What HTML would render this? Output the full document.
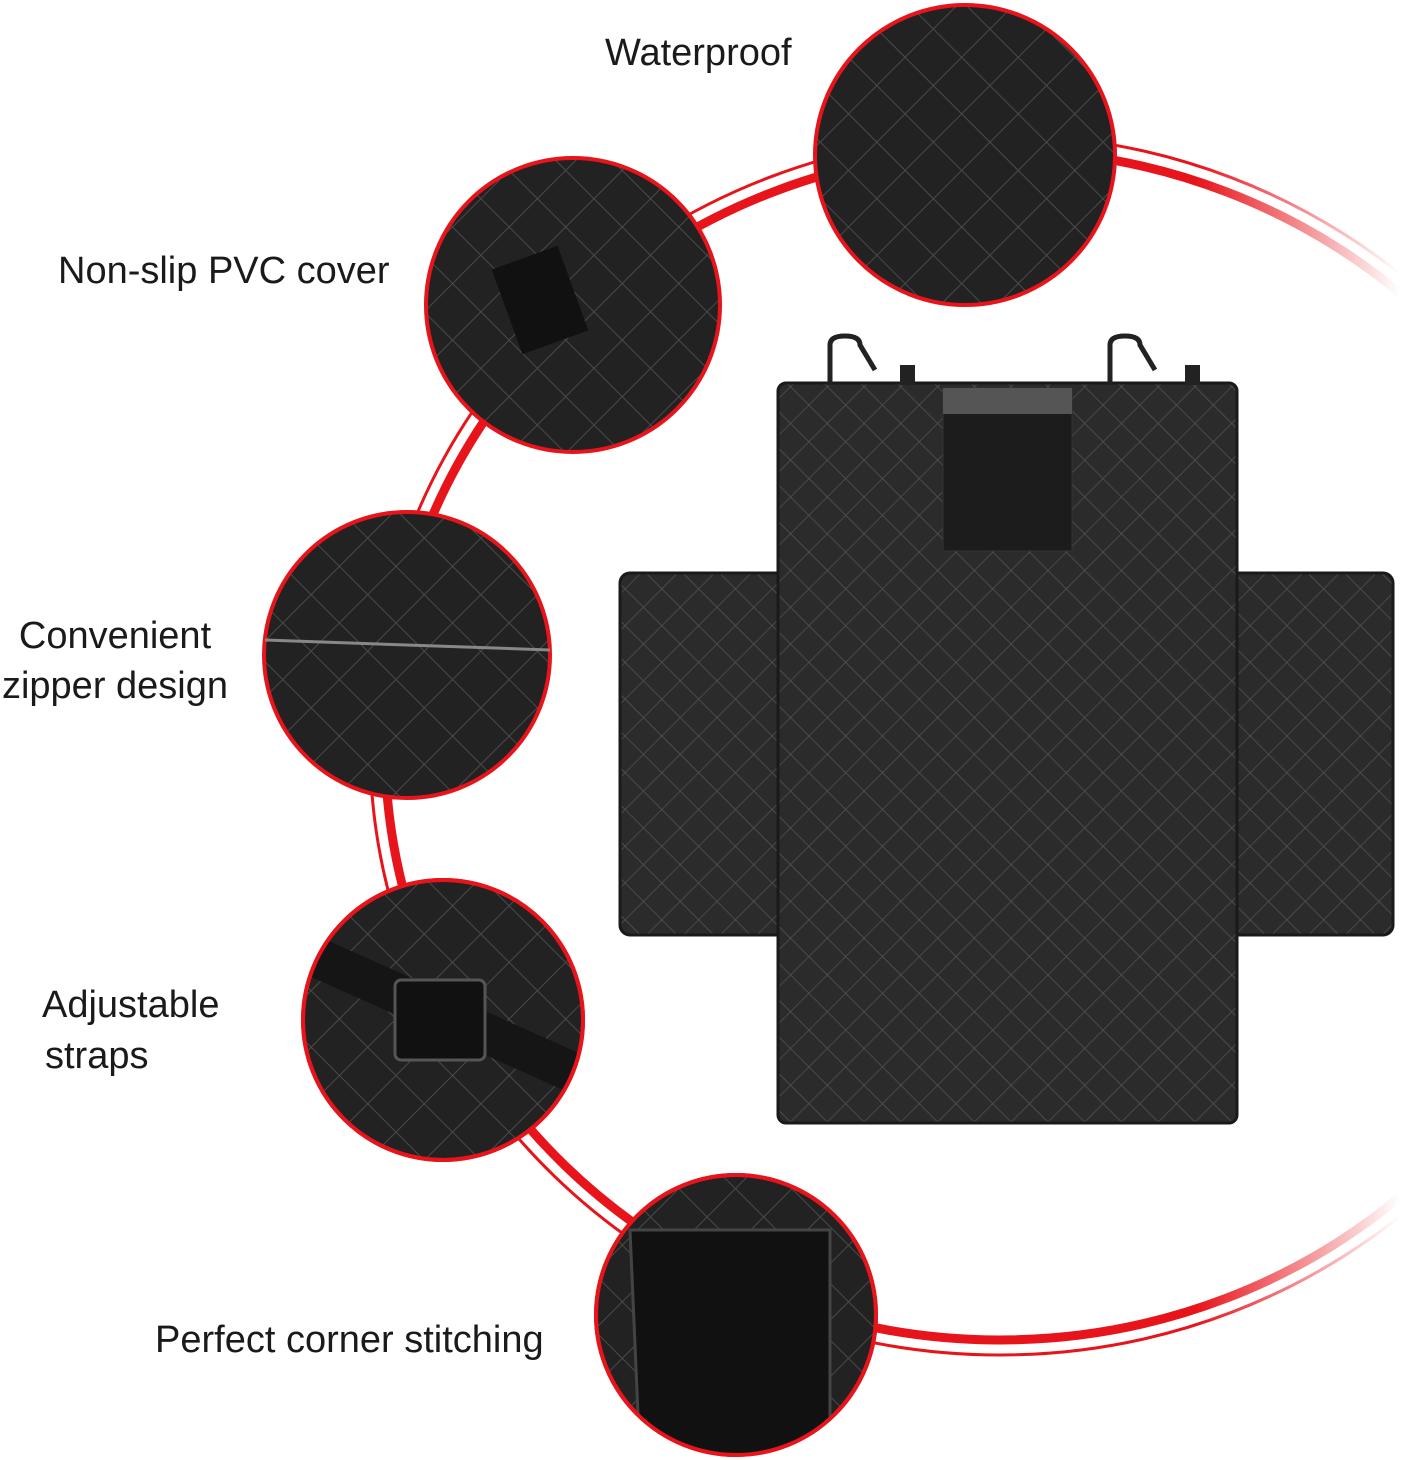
<!DOCTYPE html>
<html><head><meta charset="utf-8"><style>
html,body{margin:0;padding:0;background:#fff;}
svg{display:block}
text{font-family:"Liberation Sans",Arial,sans-serif;fill:#1a1a1a;font-size:38px}
</style></head><body>
<svg width="1401" height="1460" viewBox="0 0 1401 1460" xmlns="http://www.w3.org/2000/svg">
<defs>
<linearGradient id="rg" gradientUnits="userSpaceOnUse" x1="380" y1="0" x2="1400" y2="0">
<stop offset="0" stop-color="#e8141b"/><stop offset="0.8" stop-color="#e8141b"/><stop offset="1" stop-color="#e8141b" stop-opacity="0"/>
</linearGradient>
<pattern id="q" width="26" height="26" patternUnits="userSpaceOnUse" patternTransform="rotate(45)">
<rect width="26" height="26" fill="#2b2b2b"/>
<path d="M0 0H26M0 0V26" stroke="#555" stroke-width="1.4" fill="none"/>
</pattern>
<pattern id="q2" width="40" height="40" patternUnits="userSpaceOnUse" patternTransform="rotate(45)">
<rect width="40" height="40" fill="#222"/>
<path d="M0 0H40M0 0V40" stroke="#4a4a4a" stroke-width="2" fill="none"/>
</pattern>
<mask id="arcmask"><rect width="1401" height="1460" fill="#fff"/>
<rect x="1190" y="330" width="220" height="860" fill="#000"/></mask>
<clipPath id="c4"><circle cx="443" cy="1020" r="140"/></clipPath>
<clipPath id="c5"><circle cx="736" cy="1315" r="140"/></clipPath>
<clipPath id="c3"><circle cx="407" cy="655" r="143"/></clipPath>
</defs>

<g mask="url(#arcmask)" fill="none" stroke="url(#rg)">
<ellipse cx="1000" cy="745" rx="615" ry="595" stroke-width="9"/>
<ellipse cx="1000" cy="745" rx="630" ry="610" stroke-width="3"/>
</g>

<rect x="620" y="573" width="773" height="362" rx="10" fill="url(#q)" stroke="#1a1a1a" stroke-width="3"/>
<rect x="778" y="383" width="459" height="740" rx="8" fill="url(#q)" stroke="#1a1a1a" stroke-width="3"/>
<rect x="943" y="388" width="129" height="163" fill="#1c1c1c" stroke="#333"/>
<rect x="943" y="388" width="129" height="26" fill="#555"/>
<path d="M830 385V345Q830 336 845 336Q860 336 860 345L875 370" fill="none" stroke="#222" stroke-width="5"/>
<path d="M1110 385V345Q1110 336 1125 336Q1140 336 1140 345L1155 370" fill="none" stroke="#222" stroke-width="5"/>
<rect x="900" y="365" width="15" height="20" fill="#222"/>
<rect x="1185" y="365" width="15" height="20" fill="#222"/>

<g stroke="#e8141b" stroke-width="4">
<circle cx="965" cy="155" r="150" fill="url(#q2)"/>
<circle cx="573" cy="305" r="147" fill="url(#q2)"/>
<circle cx="407" cy="655" r="143" fill="url(#q2)"/>
<circle cx="443" cy="1020" r="140" fill="url(#q2)"/>
<circle cx="736" cy="1315" r="140" fill="url(#q2)"/>
</g>
<rect x="505" y="255" width="70" height="90" fill="#111" transform="rotate(-20 540 300)"/>
<g clip-path="url(#c3)"><path d="M265 640L550 650" stroke="#888" stroke-width="3"/></g>
<g clip-path="url(#c4)">
<path d="M300 950L590 1080" stroke="#151515" stroke-width="40"/>
<rect x="395" y="980" width="90" height="80" rx="6" fill="#111" stroke="#555" stroke-width="3"/>
</g>
<g clip-path="url(#c5)"><path d="M630 1230H830V1460H640Z" fill="#111" stroke="#444" stroke-width="3"/></g>
<circle cx="443" cy="1020" r="140" fill="none" stroke="#e8141b" stroke-width="4"/>
<circle cx="736" cy="1315" r="140" fill="none" stroke="#e8141b" stroke-width="4"/>

<text x="605" y="65">Waterproof</text>
<text x="58" y="283">Non-slip PVC cover</text>
<text x="115" y="648" text-anchor="middle">Convenient</text>
<text x="115" y="698" text-anchor="middle">zipper design</text>
<text x="42" y="1017">Adjustable</text>
<text x="45" y="1068">straps</text>
<text x="155" y="1352">Perfect corner stitching</text>
</svg>
</body></html>
